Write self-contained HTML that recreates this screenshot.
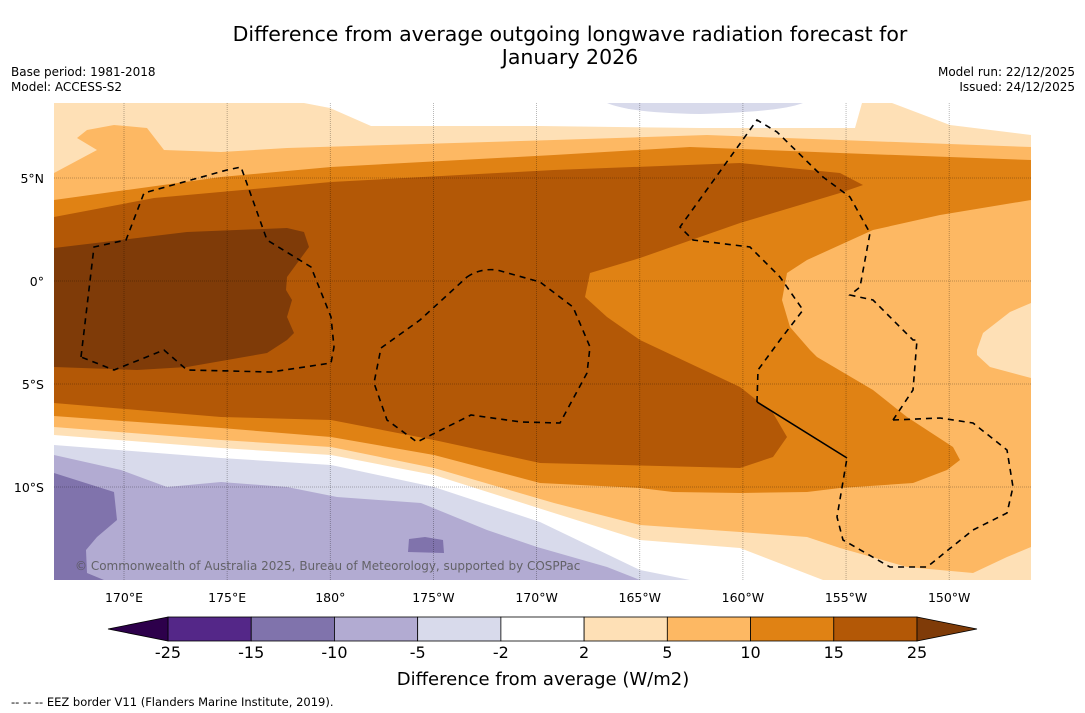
<!DOCTYPE html>
<html><head><meta charset="utf-8"><style>
body{margin:0;background:#fff;width:1085px;height:713px;overflow:hidden;font-family:"DejaVu Sans","Liberation Sans",sans-serif}
svg{display:block;font-family:"DejaVu Sans","Liberation Sans",sans-serif}
</style></head><body>
<svg id="s" width="1085" height="713" viewBox="0 0 1085 713">
<text x="570" y="41" font-size="20.5" text-anchor="middle">Difference from average outgoing longwave radiation forecast for</text>
<text x="570" y="64" font-size="20.5" text-anchor="middle">January 2026</text>
<text x="11" y="76" font-size="12">Base period: 1981-2018</text>
<text x="11" y="91" font-size="12">Model: ACCESS-S2</text>
<text x="1075" y="76" font-size="12" text-anchor="end">Model run: 22/12/2025</text>
<text x="1075" y="91" font-size="12" text-anchor="end">Issued: 24/12/2025</text>
<defs><clipPath id="mc"><rect x="54" y="103" width="977" height="477"/></clipPath></defs>
<g clip-path="url(#mc)">
<rect x="54" y="103" width="977" height="477" fill="#ffffff"/>
<polygon fill="#fee0b6" points="54,103 304,103 330,108 371,126 540,126 700,128 855,128 862,103 892,103 950,125 1031,135 1031,580 823,580 740,548 640,540 554,513 434,475 331,455 221,448 54,435"/>
<path fill="#d8daeb" d="M607,103 L803,103 Q780,112 700,114 Q630,113 607,103Z"/>
<polygon fill="#fdb863" points="54,173 97,150 77,138 87,130 114,125 147,128 164,150 221,152 287,148 387,145 554,140 707,135 840,140 1031,147 1031,303 1010,312 983,333 977,350 977,355 990,367 1031,378 1031,547 1007,557 973,573 907,567 840,548 807,537 740,532 640,525 554,503 434,468 331,447 221,440 54,427"/>
<polygon fill="#e08214" points="54,200 221,177 331,167 554,155 690,147 840,153 1031,160 1031,200 940,215 873,230 807,260 787,273 782,300 790,327 810,350 817,357 873,390 907,417 953,447 960,460 947,470 913,483 840,488 807,492 740,493 673,492 640,488 540,483 434,455 331,437 221,428 54,416"/>
<polygon fill="#b35806" points="54,217 154,198 331,182 554,170 740,163 840,173 863,185 840,193 740,223 640,258 590,273 585,297 607,317 640,340 740,387 773,413 787,437 773,457 740,468 540,463 434,440 331,420 221,417 54,403"/>
<polygon fill="#7f3b08" points="54,248 187,232 287,228 304,232 309,247 287,277 286,290 292,300 287,317 294,333 287,340 267,353 187,367 137,370 54,367"/>
<polygon fill="#d8daeb" points="54,445 221,458 331,465 434,487 540,522 640,570 690,580 54,580"/>
<polygon fill="#b2abd2" points="54,455 121,470 167,487 221,482 287,487 337,497 421,503 487,530 537,547 607,567 640,580 54,580"/>
<polygon fill="#8073ac" points="54,473 114,492 117,520 97,537 86,550 87,573 104,580 54,580"/>
<polygon fill="#8073ac" points="409,539 425,537 443,540 444,553 408,552"/>
<g id="grid"></g>
<path fill="none" stroke="#000" stroke-width="1.6" stroke-dasharray="6,5" d="M81,357 L94,247 126,240 144,193 227,170 241,167 267,240 311,267 331,317 334,347 331,363 271,372 187,370 164,350 114,370 81,357Z"/>
<path fill="none" stroke="#000" stroke-width="1.6" stroke-dasharray="6,5" d="M467,277 Q480,268 497,270 L540,282 573,307 590,347 587,373 560,423 521,422 471,415 417,442 387,420 374,383 381,348 420,320Z"/>
<path fill="none" stroke="#000" stroke-width="1.6" stroke-dasharray="6,5" d="M757,402 L758,370 780,340 803,310 780,277 750,247 693,240 680,227 757,120 777,132 823,177 850,197 870,233 860,287 850,295 873,300 913,340 917,340 913,390 893,420 M893,420 L940,418 973,423 1007,450 1013,487 1007,513 973,530 927,567 890,567 843,540 837,517 847,458"/>
<path fill="none" stroke="#000" stroke-width="1.6" d="M757,402 L847,458"/>
<text x="75" y="570" font-size="12" fill="#555" fill-opacity="0.85">© Commonwealth of Australia 2025, Bureau of Meteorology, supported by COSPPac</text>
</g>
<g id="ticks"></g>
<g id="cbar"></g>
<text x="543" y="685" font-size="18" text-anchor="middle">Difference from average (W/m2)</text>
<text x="11" y="706" font-size="11.5">--  --  -- EEZ border V11 (Flanders Marine Institute, 2019).</text>
</svg>
<script>
const lonLabels=["170°E","175°E","180°","175°W","170°W","165°W","160°W","155°W","150°W"];
const lonValues=[170,175,180,185,190,195,200,205,210];
const latLabels=["5°N","0°","5°S","10°S"];
const latValues=[5,0,-5,-10];
const levelLabels=["-25","-15","-10","-5","-2","2","5","10","15","25"];
const levelColors=["#542788","#8073ac","#b2abd2","#d8daeb","#ffffff","#fee0b6","#fdb863","#e08214","#b35806"];
const extendColors=["#2d004b","#7f3b08"];
const NS="http://www.w3.org/2000/svg";
const xLon=l=>124+(l-170)*20.63;
const yLat=l=>281-l*20.6;
function mk(t,a,p){const e=document.createElementNS(NS,t);for(const k in a)e.setAttribute(k,a[k]);p.appendChild(e);return e;}
const grid=document.getElementById('grid'),ticks=document.getElementById('ticks'),cb=document.getElementById('cbar');
lonValues.forEach((v,i)=>{const x=xLon(v);
 const l=mk('line',{x1:x,x2:x,y1:103,y2:580,stroke:'#000','stroke-opacity':0.35,'stroke-width':0.8,'stroke-dasharray':'1,1'},grid);
 
 
 const t=mk('text',{x:x,y:602,'font-size':12.5,'text-anchor':'middle'},ticks);t.textContent=lonLabels[i];
 
 });
latValues.forEach((v,i)=>{const y=yLat(v);
 const l=mk('line',{x1:54,x2:1031,y1:y,y2:y,stroke:'#000','stroke-opacity':0.35,'stroke-width':0.8,'stroke-dasharray':'1,1'},grid);
 
 
 const t=mk('text',{x:44,y:y+5,'font-size':12.5,'text-anchor':'end'},ticks);t.textContent=latLabels[i];
 
 });
const cx0=168,cx1=917,cy=617,ch=24,bw=(cx1-cx0)/levelColors.length;
levelColors.forEach((c,i)=>{const r=mk('rect',{x:cx0+i*bw,y:cy,width:bw,height:ch,fill:c,stroke:'#000','stroke-width':0.8},cb);
 
 });
const la=mk('polygon',{points:`${cx0},${cy} 108,${cy+ch/2} ${cx0},${cy+ch}`,fill:extendColors[0],stroke:'#000','stroke-width':0.8},cb);


const ra=mk('polygon',{points:`${cx1},${cy} 977,${cy+ch/2} ${cx1},${cy+ch}`,fill:extendColors[1],stroke:'#000','stroke-width':0.8},cb);


levelLabels.forEach((s,i)=>{const t=mk('text',{x:cx0+i*bw,y:658,'font-size':16,'text-anchor':'middle'},cb);t.textContent=s;
 
 });
</script>
</body></html>
